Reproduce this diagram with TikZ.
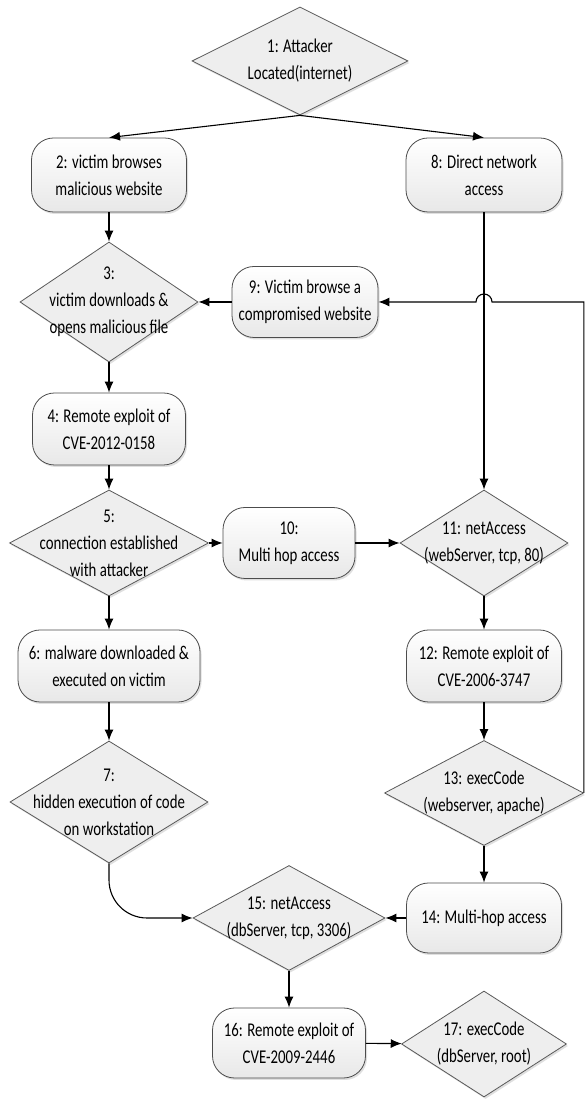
\documentclass[tikz,border=0pt]{standalone}
\usepackage{fontspec}
\setmainfont{Carlito}[FakeStretch=0.76]
\usepackage{tikz}
\usetikzlibrary{arrows.meta, shapes.geometric, shadows}

\begin{document}
\begin{tikzpicture}[>={Latex[length=11pt, width=9pt]}, x=1pt, y=1pt,
  font=\fontsize{19.5}{27}\selectfont,
  every path/.style={line width=1.1pt},
  decision/.style={diamond, draw=black!65, line width=0.8pt, fill=gray!13,
    inner sep=0pt, drop shadow={opacity=0.25, shadow xshift=1.5pt, shadow yshift=-2pt}},
  action/.style={rectangle, rounded corners=22pt, draw=black!70, line width=0.8pt,
    top color=white, bottom color=gray!18, align=center, inner sep=0pt,
    drop shadow={opacity=0.25, shadow xshift=1.5pt, shadow yshift=-2pt}},
  flow/.style={->, black}]

  \useasboundingbox[fill=white] (0,0) rectangle (584,1099);

  % left branch
  \node[decision, minimum width=216pt, minimum height=108pt,
    label={[align=center]center:1: Attacker\\Located(internet)}] (n1) at (300,1038) {};
  \node[action, minimum width=155pt, minimum height=74pt] (n2) at (109,924) {2: victim browses\\malicious website};
  \node[decision, minimum width=178pt, minimum height=120pt,
    label={[align=center]center:3:\\victim downloads \&\\opens malicious file}] (n3) at (109,797) {};
  \node[action, minimum width=153pt, minimum height=72pt] (n4) at (109,670) {4: Remote exploit of\\CVE-2012-0158};
  \node[decision, minimum width=199pt, minimum height=106pt,
    label={[align=center]center:5:\\connection established\\with attacker}] (n5) at (109,556) {};
  \node[action, minimum width=182pt, minimum height=72pt] (n6) at (109,433) {6: malware downloaded \&\\executed on victim};
  \node[decision, minimum width=198pt, minimum height=122pt,
    label={[align=center]center:7:\\hidden execution of code\\on workstation}] (n7) at (109,297) {};

  % middle
  \node[action, minimum width=146pt, minimum height=71pt] (n9) at (305,797) {9: Victim browse a\\compromised website};
  \node[action, minimum width=132pt, minimum height=71pt] (n10) at (289,556) {10:\\Multi hop access};
  \node[decision, minimum width=192pt, minimum height=105pt,
    label={[align=center]center:15: netAccess\\(dbServer, tcp, 3306)}] (n15) at (289,181) {};
  \node[action, minimum width=153pt, minimum height=70pt] (n16) at (289,56) {16: Remote exploit of\\CVE-2009-2446};

  % right branch
  \node[action, minimum width=156pt, minimum height=74pt] (n8) at (484,924) {8: Direct network\\access};
  \node[decision, minimum width=168pt, minimum height=106pt,
    label={[align=center]center:11: netAccess\\(webServer, tcp, 80)}] (n11) at (484,556) {};
  \node[action, minimum width=155pt, minimum height=72pt] (n12) at (484,433) {12: Remote exploit of\\CVE-2006-3747};
  \node[decision, minimum width=199pt, minimum height=105pt,
    label={[align=center]center:13: execCode\\(webserver, apache)}] (n13) at (484,306) {};
  \node[action, minimum width=155pt, minimum height=70pt] (n14) at (484,181) {14: Multi-hop access};
  \node[decision, minimum width=165pt, minimum height=106pt,
    label={[align=center]center:17: execCode\\(dbServer, root)}] (n17) at (484,55) {};

  \coordinate (hop) at (484,797);

  \draw[flow] (n1.south) -- (n2.north);
  \draw[flow] (n1.south) -- (n8.north);
  \draw[flow] (n2) -- (n3);
  \draw[flow] (n3) -- (n4);
  \draw[flow] (n4) -- (n5);
  \draw[flow] (n5) -- (n6);
  \draw[flow] (n6) -- (n7);
  \draw[flow] (n9) -- (n3);
  \draw[flow] (n5) -- (n10);
  \draw[flow] (n10) -- (n11);
  \draw[flow] (n8) -- (n11);
  \draw[flow] (n11) -- (n12);
  \draw[flow] (n12) -- (n13);
  \draw[flow] (n13) -- (n14);
  \draw[flow] (n14) -- (n15);
  \draw[flow] (n15) -- (n16);
  \draw[flow] (n16) -- (n17);

  % loop back over the 8 -> 11 line
  \draw[flow] (n13.east) -- (n13.east |- hop) -- ([xshift=8pt]hop)
    arc[start angle=0, end angle=180, radius=8pt] -- (n9.east);

  \draw[flow, rounded corners=38pt] (n7.south) |- (n15.west);

\end{tikzpicture}
\end{document}
